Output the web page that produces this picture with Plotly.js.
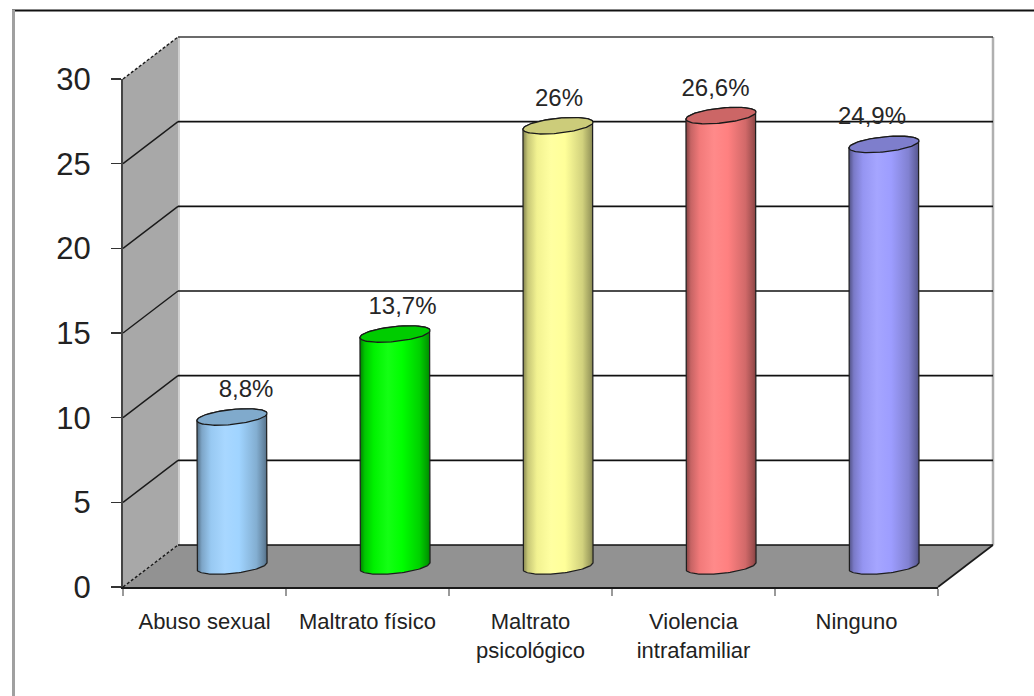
<!DOCTYPE html>
<html><head><meta charset="utf-8">
<script src="https://cdn.plot.ly/plotly-3.0.1.min.js"></script>
<style>html,body{margin:0;padding:0;background:#fff}</style>
</head><body><div id="chart" style="width:1034px;height:696px"></div>
<script>
// ---- data ----
const categories = ['Abuso sexual','Maltrato físico','Maltrato<br>psicológico','Violencia<br>intrafamiliar','Ninguno'];
const values = [8.8, 13.7, 26, 26.6, 24.9];
const valueLabels = ['8,8%','13,7%','26%','26,6%','24,9%'];
const barColors = ['#a0d4ff','#00ff00','#ffff99','#ff8080','#9d9dff'];
const yTicks = [0,5,10,15,20,25,30];

// ---- geometry (pixels) ----
const W=1034,H=696;
const X0=123, Y0=587, XEND=938;
const DX=55, DY=-42;
const S=(587-79)/30;
const px=x=>x/W, py=y=>1-y/H;
const MIDZERO = Y0 + DY/2;

function shade(hex,f){
  const n=parseInt(hex.slice(1),16);
  let r=(n>>16)&255,g=(n>>8)&255,b=n&255;
  if(f<=1){r*=f;g*=f;b*=f;} else {const k=f-1;r+= (255-r)*k;g+=(255-g)*k;b+=(255-b)*k;}
  return 'rgb('+Math.round(r)+','+Math.round(g)+','+Math.round(b)+')';
}

const traces=[];
// bars (mid-depth plane)
traces.push({type:'bar', x:values.map((v,i)=>i), y:values, width:0.36, xaxis:'x2', yaxis:'y2',
  marker:{color:barColors, line:{width:0}}, hoverinfo:'y', showlegend:false});

const rx=0.43/2, ryU=7.5/S, tiltU=3.5/S;
const N=60;
values.forEach((v,i)=>{
  const cx=i, c=barColors[i];
  const bx=[],by=[];
  bx.push(cx-rx); by.push(v-tiltU);
  bx.push(cx-rx); by.push(-tiltU);
  for(let k=0;k<=N;k++){const t=Math.PI+Math.PI*k/N; bx.push(cx+rx*Math.cos(t)); by.push(ryU*Math.sin(t)+tiltU*Math.cos(t));}
  bx.push(cx+rx); by.push(v+tiltU);
  for(let k=0;k<=N;k++){const t=Math.PI*k/N; bx.push(cx+rx*Math.cos(t)); by.push(v+ryU*Math.sin(t)+tiltU*Math.cos(t));}
  traces.push({type:'scatter', mode:'lines', x:bx, y:by, xaxis:'x2', yaxis:'y2', fill:'toself',
    fillgradient:{type:'horizontal', colorscale:[[0,shade(c,0.5)],[0.07,shade(c,0.78)],[0.2,shade(c,0.95)],[0.4,shade(c,1.08)],[0.6,shade(c,1.0)],[0.85,shade(c,0.82)],[0.96,shade(c,0.62)],[1,shade(c,0.5)]]},
    line:{color:'#1e1e1e', width:1.2}, hoverinfo:'skip', showlegend:false});
  const ex=[],ey=[];
  for(let k=0;k<=2*N;k++){const t=2*Math.PI*k/(2*N); ex.push(cx+rx*Math.cos(t)); ey.push(v+ryU*Math.sin(t)+tiltU*Math.cos(t));}
  traces.push({type:'scatter', mode:'lines', x:ex, y:ey, xaxis:'x2', yaxis:'y2', fill:'toself',
    fillcolor:shade(c,0.8), line:{color:'#1a1a1a', width:1.3}, hoverinfo:'skip', showlegend:false});
});
// value labels
traces.push({type:'scatter', mode:'text', x:values.map((v,i)=>i+(14-6.5*i)/163), y:values.map(v=>v+26/S),
  text:valueLabels, textposition:'middle center', xaxis:'x2', yaxis:'y2', cliponaxis:false,
  textfont:{family:'Liberation Sans, Arial, sans-serif', size:24, color:'#262626'}, hoverinfo:'skip', showlegend:false});
// invisible carrier for category axis
traces.push({type:'scatter', mode:'markers', x:categories, y:categories.map(()=>0), marker:{opacity:0},
  hoverinfo:'skip', showlegend:false});

// ---- 3D frame shapes ----
const shapes=[];
const BX0=X0+DX, BXEND=XEND+DX, BY0=Y0+DY;
const topY=BY0-30*S;
// left wall
shapes.push({type:'path', xref:'paper', yref:'paper', layer:'below',
  path:`M${px(X0)},${py(Y0)} L${px(X0)},${py(Y0-30*S)} L${px(BX0)},${py(topY)} L${px(BX0)},${py(BY0)} Z`,
  fillcolor:'#a8a8a8', line:{width:0}});
// floor
shapes.push({type:'path', xref:'paper', yref:'paper', layer:'below',
  path:`M${px(X0)},${py(Y0)} L${px(BX0)},${py(BY0)} L${px(BXEND)},${py(BY0)} L${px(XEND)},${py(Y0)} Z`,
  fillcolor:'#929292', line:{width:0}});
// left wall back edge highlight
shapes.push({type:'line', xref:'paper', yref:'paper', layer:'below', x0:px(BX0+1), x1:px(BX0+1), y0:py(topY), y1:py(BY0), line:{color:'#d0d0d0', width:2}});
// back wall right edge
shapes.push({type:'line', xref:'paper', yref:'paper', layer:'below', x0:px(BXEND), x1:px(BXEND), y0:py(topY), y1:py(BY0), line:{color:'#b0b0b0', width:2.5}});
// back gridlines & left wall diagonals
yTicks.forEach(t=>{
  const yb=BY0-t*S, yf=Y0-t*S;
  const edge=(t===0||t===30);
  shapes.push({type:'line', xref:'paper', yref:'paper', layer:'below', x0:px(BX0), x1:px(BXEND), y0:py(yb), y1:py(yb),
    line:{color: t===30?'#3a3a3a':'#111', width:1.6}});
  shapes.push({type:'line', xref:'paper', yref:'paper', layer:'below', x0:px(X0), x1:px(BX0), y0:py(yf), y1:py(yb),
    line:{color:'#1a1a1a', width:1.4, dash: edge?'3px,2px':'solid'}});
});
// floor right edge
shapes.push({type:'line', xref:'paper', yref:'paper', layer:'below', x0:px(XEND), x1:px(BXEND), y0:py(Y0), y1:py(BY0), line:{color:'#1a1a1a', width:1.6}});
// outer frame
shapes.push({type:'line', xref:'paper', yref:'paper', x0:px(12), x1:1, y0:py(10.5), y1:py(10.5), line:{color:'#111', width:2}});
shapes.push({type:'line', xref:'paper', yref:'paper', x0:px(13.5), x1:px(13.5), y0:py(10), y1:0, line:{color:'#a0a0a0', width:3}});

const font='Liberation Sans, Arial, sans-serif';
const layout={
  width:W, height:H, margin:{l:0,r:0,t:0,b:0}, paper_bgcolor:'#ffffff', plot_bgcolor:'rgba(0,0,0,0)',
  showlegend:false, bargap:0,
  xaxis:{domain:[px(X0),px(XEND)], anchor:'y', type:'category', categoryorder:'array', categoryarray:categories,
    range:[-0.5,4.5], showline:true, linecolor:'#1a1a1a', linewidth:2, ticks:'outside', ticklen:7, tickwidth:2,
    tickcolor:'#9a9a9a', tickson:'boundaries', showgrid:false, zeroline:false, ticklabelstandoff:14,
    tickfont:{family:font, size:22, color:'#222'}, fixedrange:true},
  yaxis:{domain:[py(Y0),py(Y0-30*S)], anchor:'x', range:[0,30], tickmode:'array', tickvals:yTicks,
    showline:true, linecolor:'#444', linewidth:2, ticks:'outside', ticklen:10, tickwidth:1.5, tickcolor:'#333',
    showgrid:false, zeroline:false, ticklabelstandoff:14, tickfont:{family:font, size:31, color:'#222'}, fixedrange:true},
  xaxis2:{domain:[px(X0+DX/2),px(XEND+DX/2)], anchor:'y2', range:[-0.5,4.5], visible:false, fixedrange:true},
  yaxis2:{domain:[py(600),py(30)], anchor:'x2', range:[(MIDZERO-600)/S,(MIDZERO-30)/S], visible:false, fixedrange:true},
  shapes:shapes
};
Plotly.newPlot('chart', traces, layout, {displayModeBar:false, staticPlot:true});
</script></body></html>
